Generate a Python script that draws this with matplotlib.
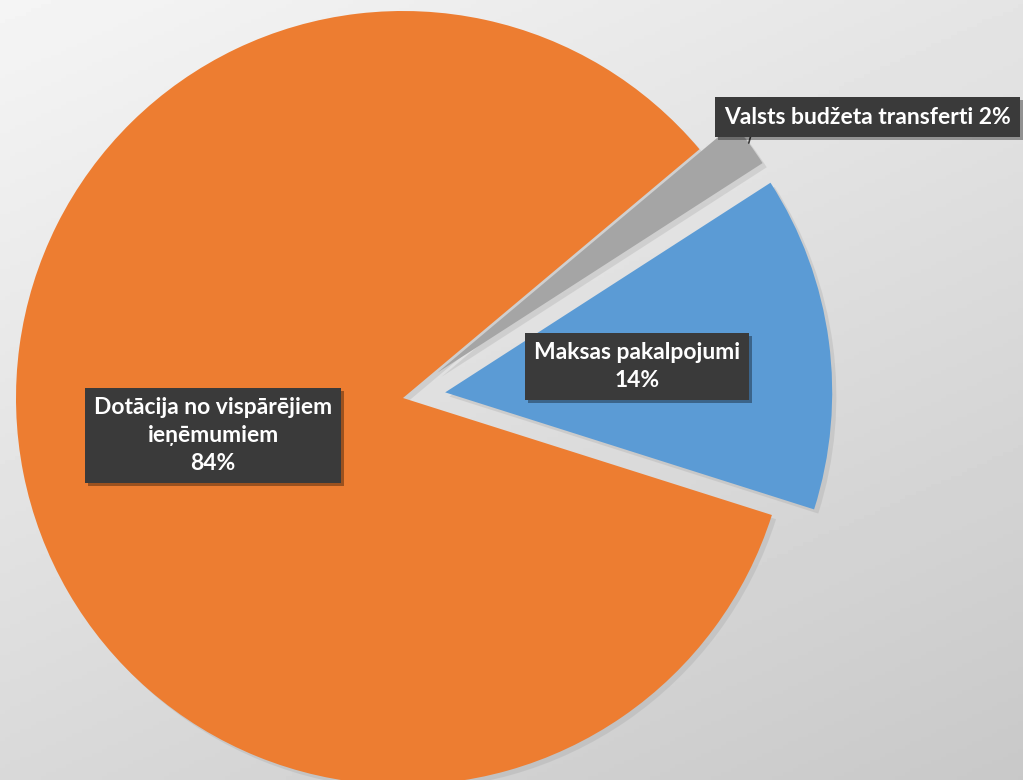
import numpy as np
import matplotlib
matplotlib.use("Agg")
import matplotlib.pyplot as plt
import matplotlib.patheffects as pe

# data
labels = ["Dotācija no vispārējiem\nieņēmumiem", "Maksas pakalpojumi", "Valsts budžeta transferti"]
shares = [84, 14, 2]
colors = ["#ED7D31", "#5B9BD5", "#A5A5A5"]
explode = [0.0, 0.11, 0.11]

plt.rcParams['font.family'] = ['Lato', 'DejaVu Sans']

fig = plt.figure(figsize=(10.23, 7.8), dpi=100)

# background gradient (corner greys)
bg = fig.add_axes([0, 0, 1, 1])
bg.set_axis_off()
u = np.linspace(0, 1, 200)
X, Y = np.meshgrid(u, u)
tl, tr, bl, br = 0.96, 0.895, 0.85, 0.785
grad = tl * (1 - X) * (1 - Y) + tr * X * (1 - Y) + bl * (1 - X) * Y + br * X * Y
bg.imshow(grad, cmap='gray', vmin=0, vmax=1, extent=[0, 1, 1, 0], aspect='auto')

ax = fig.add_axes([0, 0, 1, 1])
ax.set_axis_off()
ax.patch.set_alpha(0)

wedges, _ = ax.pie(shares, colors=colors, explode=explode, startangle=40,
                   counterclock=True, radius=1.0,
                   wedgeprops=dict(linewidth=0))
for w in wedges:
    w.set_path_effects([pe.SimplePatchShadow(offset=(3, -3), shadow_rgbFace='#999999', alpha=0.25),
                        pe.Normal()])

# pie center at pixel (403, 398), radius 387 px
r_px = 387.0
ax.set_xlim(-403 / r_px, (1023 - 403) / r_px)
ax.set_ylim(-(780 - 398) / r_px, 398 / r_px)
ax.set_aspect('equal')

box = dict(boxstyle='square,pad=0.4', fc='#3a3a3a', ec='none')
shadow = [pe.SimplePatchShadow(offset=(2, -2), shadow_rgbFace='#000000', alpha=0.35), pe.Normal()]

def wedge_point(w, dist):
    ang = np.deg2rad((w.theta1 + w.theta2) / 2)
    cx, cy = w.center
    return cx + dist * w.r * np.cos(ang), cy + dist * w.r * np.sin(ang)

for w, lab, s in zip(wedges[:2], labels[:2], shares[:2]):
    x, y = wedge_point(w, 0.5)
    t = ax.text(x, y, f"{lab}\n{s}%", ha='center', va='center', color='white',
                fontsize=16.5, fontweight='bold', linespacing=1.4, bbox=box)
    t.get_bbox_patch().set_path_effects(shadow)

# small slice: label outside with a short leader
x, y = wedge_point(wedges[2], 1.0)
t = ax.annotate(f"{labels[2]} {shares[2]}%", xy=(x, y), xytext=(119, 26),
                textcoords='offset pixels', ha='center', va='center', color='white',
                fontsize=16.5, fontweight='bold', bbox=box,
                arrowprops=dict(arrowstyle='-', color='#3a3a3a', lw=1.2,
                                relpos=(0.1, 0), shrinkA=0, shrinkB=0))
t.get_bbox_patch().set_path_effects(shadow)

fig.savefig("out.png", dpi=100)
